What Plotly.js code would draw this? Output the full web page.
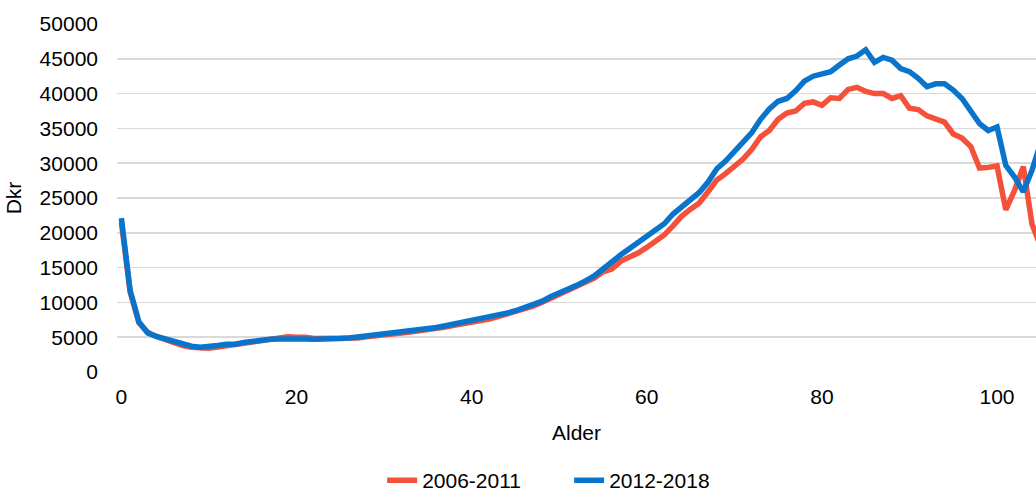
<!DOCTYPE html>
<html>
<head>
<meta charset="utf-8">
<script src="https://cdn.plot.ly/plotly-3.0.1.min.js"></script>
<style>
  html, body { margin: 0; padding: 0; background: #fff; }
  #grafico { width: 1036px; height: 491px; }
</style>
</head>
<body>
<div id="grafico"></div>
<script>
//////////////////////////////////////////////////////////
//     Dados: udgift pr. person (Dkr) efter alder       //
//////////////////////////////////////////////////////////

const alder = [];
for (let a = 0; a <= 105; a++) alder.push(a);

// 2006-2011
const serie2006 = [
  21500, 11500, 7100, 5700, 5100, 4650, 4150, 3800, 3550, 3400,
  3400, 3600, 3800, 3800, 4050, 4250, 4450, 4650, 4850, 5050,
  5000, 5000, 4800, 4800, 4800, 4750, 4800, 4900, 5050, 5150,
  5250, 5400, 5600, 5750, 5900, 6100, 6250, 6450, 6700, 6900,
  7100, 7400, 7600, 7950, 8300, 8650, 9050, 9450, 10000, 10600,
  11100, 11600, 12200, 12800, 13500, 14400, 14800, 15900, 16400, 17100,
  17900, 18700, 19700, 21000, 22400, 23400, 24300, 25900, 27600, 28500,
  29600, 30600, 32000, 33800, 34700, 36300, 37200, 37500, 38600, 38800,
  38300, 39400, 39300, 40600, 40900, 40300, 40000, 40000, 39300, 39700,
  37900, 37700, 36800, 36300, 35900, 34200, 33600, 32400, 29300, 29400,
  29600, 23300, 26100, 29500, 21200, 18000
];

// 2012-2018
const serie2012 = [
  22100, 11700, 7200, 5600, 5100, 4750, 4200, 3900, 3700, 3550,
  3600, 3800, 4000, 4000, 4250, 4450, 4600, 4700, 4750, 4800,
  4800, 4750, 4700, 4700, 4750, 4800, 4900, 5050, 5200, 5300,
  5350, 5500, 5700, 5850, 6000, 6200, 6400, 6650, 6900, 7050,
  7250, 7550, 7750, 8100, 8450, 8800, 9200, 9550, 10150, 10800,
  11300, 11850, 12450, 13100, 13800, 14800, 15900, 16800, 17700, 18600,
  19500, 20400, 21300, 22700, 23700, 24800, 25800, 27300, 29200, 30300,
  31700, 33000, 34400, 36300, 37800, 38900, 39300, 40400, 41800, 42500,
  42900, 43150, 44100, 45000, 45400, 46300, 44500, 45200, 44800, 43600,
  43150, 42200, 41000, 41400, 41400, 40500, 39300, 37400, 35700, 34700,
  35200, 29700, 28000, 25900, 29000, 33000
];

const navne = ['2006-2011', '2012-2018'];
const farver = ['#F4503A', '#0874CC'];

//////////////////////////////////////////////////////////

const FONT = { family: 'Liberation Sans, Arial, sans-serif', size: 21, color: '#000' };

const data = [serie2006, serie2012].map((y, i) => ({
  type: 'scatter',
  mode: 'lines',
  name: navne[i],
  x: alder,
  y: y,
  line: { color: farver[i], width: 5.5 },
  hoverinfo: 'x+y'
}));

const layout = {
  width: 1036,
  height: 491,
  // legenden må ikke skubbe plotområdet op
  margin: { l: 117, r: 0, t: 24, b: 119, autoexpand: false },
  paper_bgcolor: '#fff',
  plot_bgcolor: '#fff',
  font: FONT,
  showlegend: true,
  legend: {
    orientation: 'h',
    x: 0.492, xanchor: 'center',
    y: -0.312, yanchor: 'middle',
    font: FONT,
    itemwidth: 30,
    entrywidth: 142
  },
  xaxis: {
    range: [-0.5, 104.45],
    tickvals: [0, 20, 40, 60, 80, 100],
    showgrid: false,
    zeroline: false,
    showline: false,
    ticks: '',
    ticklabelstandoff: 10,
    title: { text: 'Alder', font: FONT, standoff: 18 }
  },
  yaxis: {
    range: [0, 50000],
    dtick: 5000,
    tickformat: 'd',
    showgrid: true,
    gridcolor: '#d9d9d9',
    gridwidth: 1.5,
    zeroline: false,
    showline: false,
    ticks: '',
    ticklabelstandoff: 18,
    title: { text: 'Dkr', font: FONT, standoff: 12 }
  }
};

Plotly.newPlot('grafico', data, layout, { staticPlot: true });
</script>
</body>
</html>
